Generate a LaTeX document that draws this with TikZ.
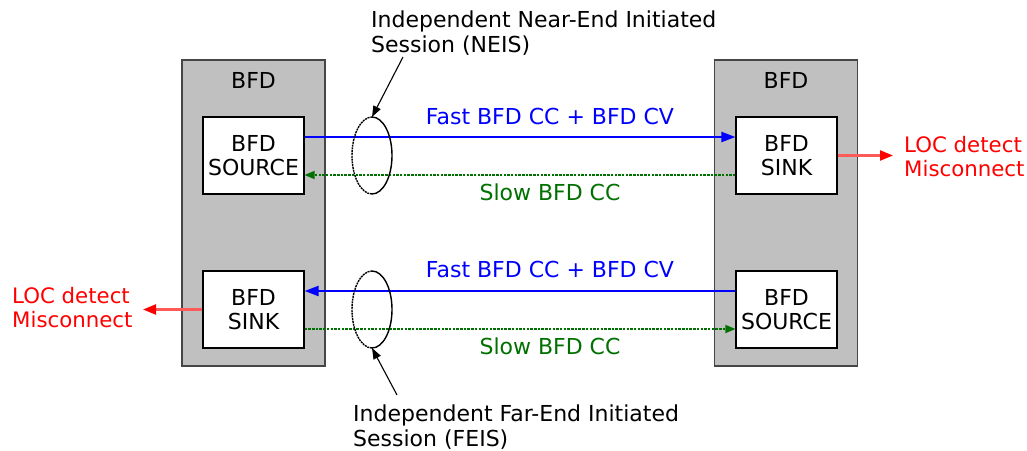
\documentclass[tikz,border=0pt]{standalone}
\usepackage{fontspec}
\setmainfont{DejaVu Sans}
\usetikzlibrary{arrows.meta}
\definecolor{boxgray}{RGB}{192,192,192}
\definecolor{edgegray}{RGB}{70,70,70}
\definecolor{fastblue}{RGB}{0,0,255}
\definecolor{slowgreen}{RGB}{0,112,0}
\definecolor{locred}{RGB}{255,0,0}
\definecolor{locline}{RGB}{255,90,90}
\begin{document}
\begin{tikzpicture}[x=1pt,y=-1pt,
  every node/.style={font=\fontsize{22}{24.5}\selectfont},
  outerbox/.style={draw=edgegray,line width=1.5pt,fill=boxgray,minimum width=143pt,minimum height=306pt,inner sep=0pt},
  innerbox/.style={draw=black,line width=1.2pt,fill=white,minimum width=101pt,minimum height=77pt,inner sep=0pt,align=center},
  fastarrow/.style={draw=fastblue,line width=2.2pt,-{Triangle[length=14pt,width=10pt]}},
  slowarrow/.style={draw=slowgreen,line width=1.5pt,dash pattern=on 2.5pt off 1.2pt,-{Triangle[length=10pt,width=8pt]}},
  fastlabel/.style={text=fastblue,anchor=base,inner sep=0pt},
  slowlabel/.style={text=slowgreen,anchor=base,inner sep=0pt},
  loctext/.style={text=locred,align=left,inner sep=0pt,font=\fontsize{21.3}{24}\selectfont},
  locarrow/.style={draw=locline,line width=2.2pt,-{Triangle[length=13pt,width=10pt,color=locred]}},
  callout/.style={draw=black,line width=1.1pt,-{Triangle[length=11pt,width=8pt]}},
  sessiontext/.style={align=left,inner sep=0pt,anchor=base west},
  ring/.style={draw=black,line width=1.4pt}
]
\useasboundingbox (0,0) rectangle (1027,450);

% outer BFD boxes
\node[outerbox] (LBFD) at (253.5,213) {};
\node[outerbox] (RBFD) at (786,213) {};
\node[anchor=base,inner sep=0pt] (LBFDt) at (253.5,88) {BFD};
\node[anchor=base,inner sep=0pt] (RBFDt) at (786,88) {BFD};

% inner boxes
\node[innerbox] (LS) at (253.5,155.5) {BFD\\SOURCE};
\node[innerbox] (LK) at (253.5,309.5) {BFD\\SINK};
\node[innerbox] (RK) at (786.5,155.5) {BFD\\SINK};
\node[innerbox] (RS) at (786.5,309.5) {BFD\\SOURCE};

% session arrows
\draw[fastarrow] ([yshift=18.5pt]LS.east) -- ([yshift=18.5pt]RK.west);
\draw[slowarrow] ([yshift=-19.5pt]RK.west) -- ([yshift=-19.5pt]LS.east);
\draw[fastarrow] ([yshift=18.5pt]RS.west) -- ([yshift=18.5pt]LK.east);
\draw[slowarrow] ([yshift=-19.5pt]LK.east) -- ([yshift=-19.5pt]RS.west);

\node[fastlabel] (F1) at (550,124) {Fast BFD CC + BFD CV};
\node[slowlabel] (S1) at (550,200) {Slow BFD CC};
\node[fastlabel] (F2) at (550,277) {Fast BFD CC + BFD CV};
\node[slowlabel] (S2) at (550,354) {Slow BFD CC};

% ellipses
\draw[ring,dash pattern=on 2pt off 0.8pt] (372,194) arc[start angle=90,end angle=270,x radius=20,y radius=38.5];
\draw[ring] (372,117) arc[start angle=270,end angle=450,x radius=20,y radius=38.5];
\coordinate (E1top) at (372,117);
\draw[ring,dash pattern=on 2pt off 0.8pt] (372,348) arc[start angle=90,end angle=270,x radius=20,y radius=38.5];
\draw[ring] (372,271) arc[start angle=270,end angle=450,x radius=20,y radius=38.5];
\coordinate (E2bot) at (372,348);

% session labels and callouts
\node[sessiontext] (NEIS) at (371,52) {Independent Near-End Initiated\\Session (NEIS)};
\node[sessiontext] (FEIS) at (353,446) {Independent Far-End Initiated\\Session (FEIS)};
\coordinate (NEISp) at (403,57);
\coordinate (FEISp) at (397,395);
\draw[callout] (NEISp) -- (E1top);
\draw[callout] (FEISp) -- (E2bot);

% LOC detect
\coordinate (RLOCtip) at (893,155.5);
\coordinate (LLOCtip) at (143,309.5);
\draw[locarrow] (RK.east) -- (RLOCtip);
\draw[locarrow] (LK.west) -- (LLOCtip);
\node[loctext,anchor=base west] (RLOC) at (904,176) {LOC detect\\Misconnect};
\node[loctext,anchor=base west] (LLOC) at (12,327) {LOC detect\\Misconnect};
\end{tikzpicture}
\end{document}
